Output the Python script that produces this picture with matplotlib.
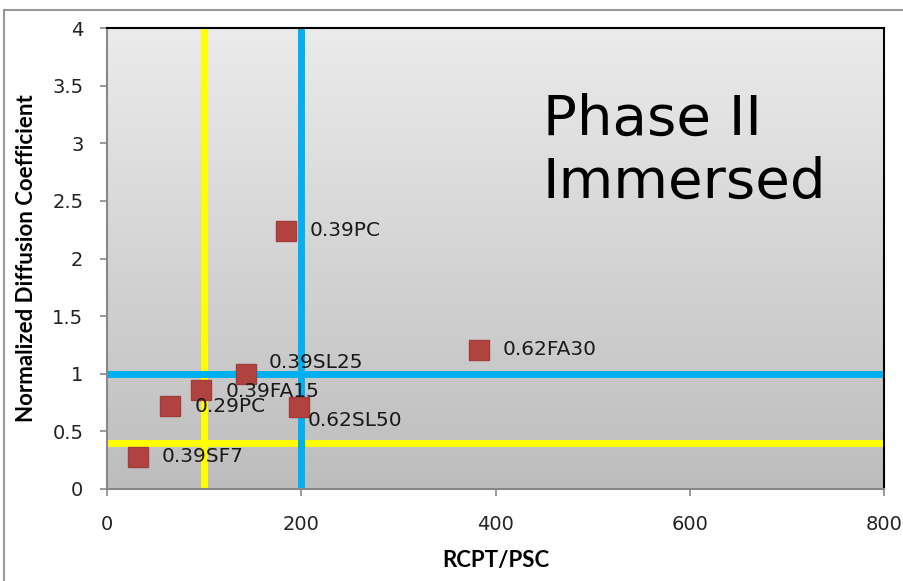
import numpy as np
import matplotlib.pyplot as plt
from matplotlib.colors import LinearSegmentedColormap
from matplotlib.lines import Line2D

# data
labels = ['0.39PC', '0.39SL25', '0.39FA15', '0.29PC', '0.62SL50', '0.39SF7', '0.62FA30']
rcpt = [184, 143, 97, 65, 198, 32, 383]
diff_coef = [2.24, 1.0, 0.86, 0.72, 0.71, 0.28, 1.21]
# label offsets (pixels) from each marker
offsets = [(24, 0), (23, 11), (24, -2), (24, 0), (8, -13), (24, 0), (24, 0)]

yellow_x, yellow_y = 100, 0.4
blue_x, blue_y = 200, 1.0

fig = plt.figure(figsize=(9.04, 5.81), dpi=100)
W, H = 904, 581
ax = fig.add_axes([107 / W, 1 - 489 / H, (884 - 107) / W, (489 - 28) / H])

# gradient background
grad = np.linspace(0, 1, 256).reshape(-1, 1)
cmap = LinearSegmentedColormap.from_list('g', ['#bdbdbd', '#ebebeb'])
ax.imshow(grad, extent=[0, 800, 0, 4], aspect='auto', cmap=cmap, origin='lower', zorder=0)

ax.set_xlim(0, 800)
ax.set_ylim(0, 4)

ax.axvline(yellow_x, color='#ffff00', lw=5, zorder=2)
ax.axhline(yellow_y, color='#ffff00', lw=5, zorder=2)
ax.axvline(blue_x, color='#00b0f0', lw=5, zorder=2)
ax.axhline(blue_y, color='#00b0f0', lw=5, zorder=2)

ax.plot(rcpt, diff_coef, ls='none', marker='s', markersize=14.5,
        markerfacecolor='#b04340', markeredgecolor='#a03c3a', zorder=3)

for lab, x, y, off in zip(labels, rcpt, diff_coef, offsets):
    ax.annotate(lab, (x, y), xytext=off, textcoords='offset pixels',
                ha='left', va='center', fontsize=14.5, family='DejaVu Sans',
                color='#1a1a1a', zorder=4)

ax.text(0.561, 0.768, 'Phase II', transform=ax.transAxes, fontsize=40.5,
        family='DejaVu Sans', color='black', ha='left', va='baseline')
ax.text(0.561, 0.631, 'Immersed', transform=ax.transAxes, fontsize=40.5,
        family='DejaVu Sans', color='black', ha='left', va='baseline')

ax.set_xticks(np.arange(0, 801, 200))
ax.set_yticks(np.arange(0, 4.01, 0.5))
ax.set_yticklabels(['0', '0.5', '1', '1.5', '2', '2.5', '3', '3.5', '4'])
for t in ax.get_xticklabels() + ax.get_yticklabels():
    t.set_family('DejaVu Sans')
    t.set_fontsize(14)
    t.set_color('#222222')
ax.tick_params(axis='both', direction='out', length=5, color='#888888', width=1.2)
ax.tick_params(axis='x', pad=14)
ax.tick_params(axis='y', pad=12)

ax.spines['top'].set_color('black')
ax.spines['right'].set_color('black')
ax.spines['top'].set_linewidth(1.5)
ax.spines['right'].set_linewidth(1.5)
ax.spines['left'].set_color('#888888')
ax.spines['bottom'].set_color('#888888')
ax.spines['left'].set_linewidth(1.5)
ax.spines['bottom'].set_linewidth(1.5)

ax.set_xlabel('RCPT/PSC', fontsize=16, fontweight='bold', family='Lato', labelpad=11)
ax.set_ylabel('Normalized Diffusion Coefficient', fontsize=16, fontweight='bold',
              family='Lato', labelpad=11)

# outer frame of the original slide
fig.add_artist(Line2D([5 / W, 1], [1 - 10 / H, 1 - 10 / H], color='#999999', lw=1.5))
fig.add_artist(Line2D([4 / W, 4 / W], [0, 1 - 10 / H], color='#999999', lw=1.5))

fig.savefig('out.png', dpi=100)
